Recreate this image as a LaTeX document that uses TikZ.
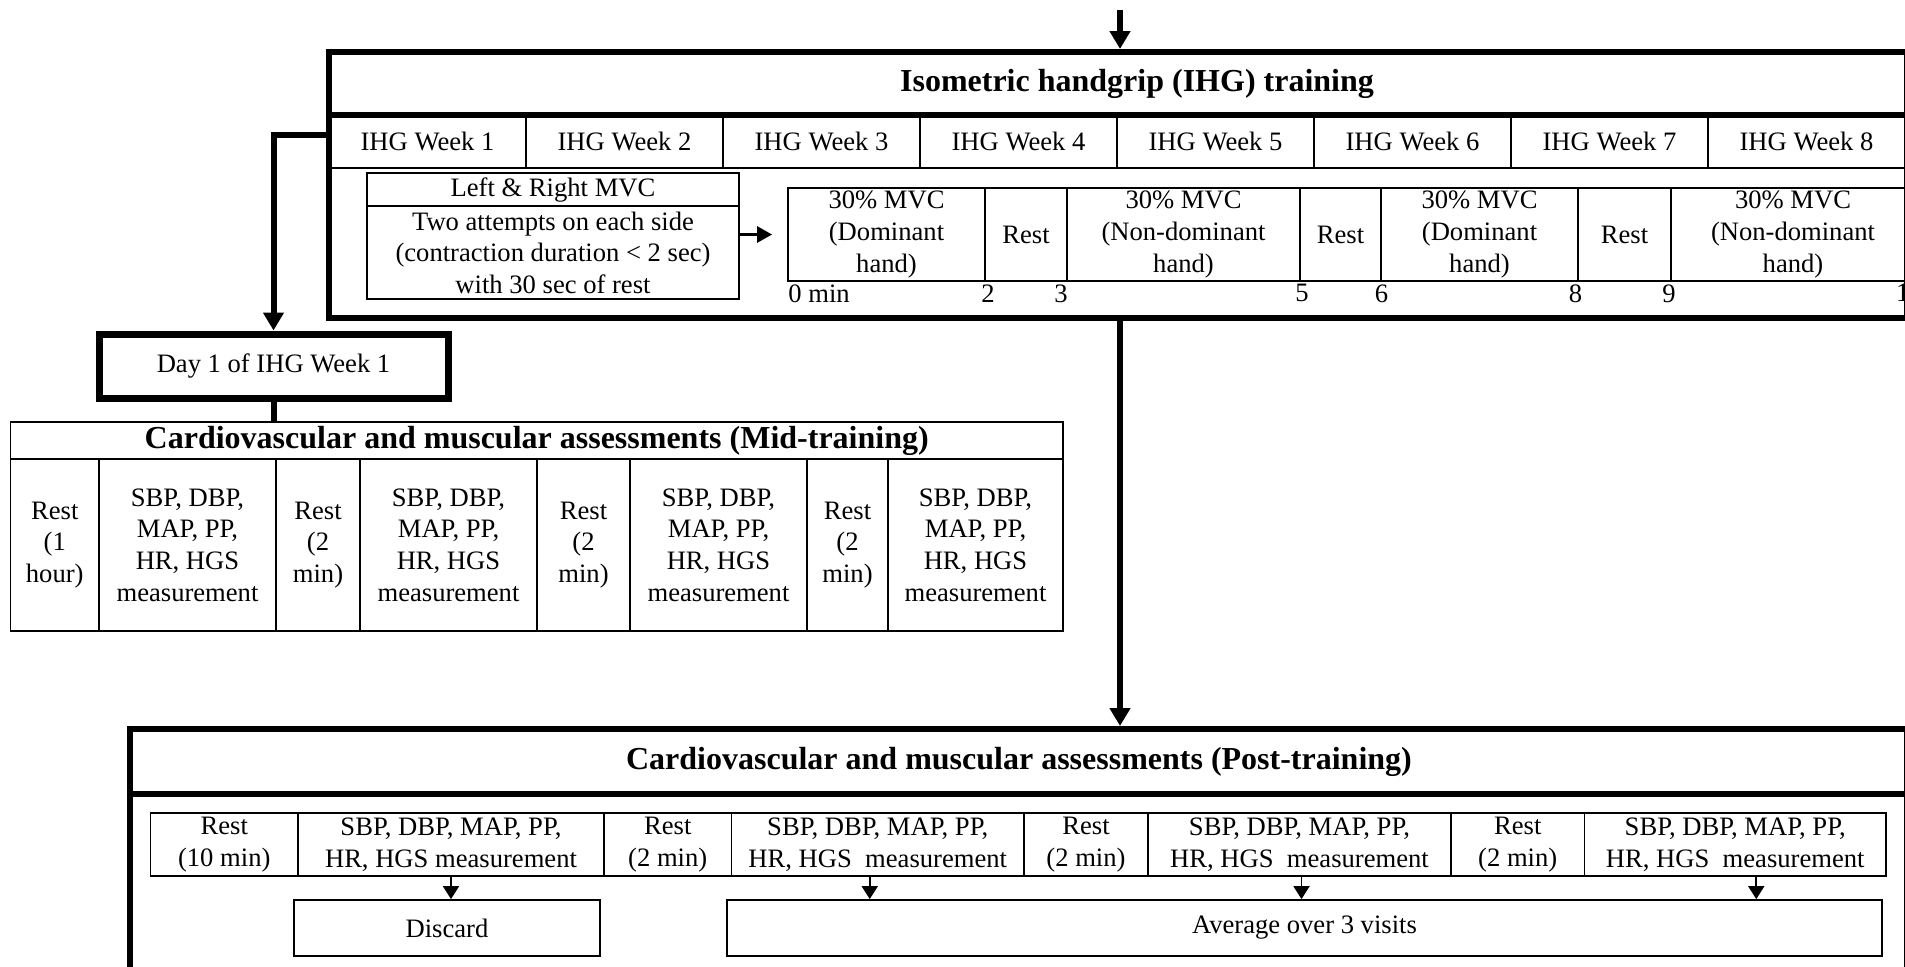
\documentclass[tikz,border=0pt]{standalone}
\usepackage{fontspec}
\setmainfont{Liberation Serif}
\usetikzlibrary{positioning,arrows.meta}
\begin{document}
\begin{tikzpicture}[x=0.5pt, y=-0.5pt,
		font=\fontsize{13.3}{15.8}\selectfont,
		cell/.style={draw, line width=0.9pt, inner sep=1pt, align=center},
		frame/.style={draw, line width=3pt, inner sep=0pt, align=center},
		heading/.style={font=\fontsize{16}{19}\selectfont\bfseries},
		tick/.style={inner sep=0pt, anchor=north},
		bigarrow/.style={line width=3pt, -{Triangle[length=9pt, width=10pt]}},
		smallarrow/.style={line width=0.9pt, -{Triangle[length=6.5pt, width=8pt]}}]
	\useasboundingbox (0,0) rectangle (1905,966);
	\clip (0,0) rectangle (1905,966);
	% cell texts
	\def\dom {30\% MVC\\(Dominant\\hand)};
	\def\nondom {30\% MVC\\(Non-dominant\\hand)};
	\def\restfirst {Rest\\(1\\hour)};
	\def\restmid {Rest\\(2\\min)};
	\def\measmid {SBP, DBP,\\MAP, PP,\\HR, HGS\\measurement};
	\def\restfirstpost {Rest\\(10 min)};
	\def\restpost {Rest\\(2 min)};
	\def\measfirstpost {SBP, DBP, MAP, PP,\\HR, HGS measurement};
	\def\measpost {SBP, DBP, MAP, PP,\\HR, HGS\ \ measurement};
	% outer frames
	\node[frame, minimum width=788.75pt, minimum height=133pt] (ihg) at (1117.75,185) {};
	\node[frame, minimum width=888.25pt, minimum height=130.5pt] (post) at (1018.25,859.5) {};
	% training block
	\node[heading] (ihg_title) at (1137,83.5) {Isometric handgrip (IHG) training};
	\foreach \index in {1,...,8}
	{
		\node[cell, minimum width=98.5pt, minimum height=26.5pt] (w_\index) at ({329+197*(\index-0.5)},141.5) {IHG Week \index};
	}
	\draw[line width=3pt] (329,115) -- (1906.5,115);
	\node[cell, minimum width=186pt, minimum height=16.5pt] (mvc_head) at (553,189.5) {Left \& Right MVC};
	\node[cell, minimum width=186pt, minimum height=46.5pt] (mvc_body) at (553,252.5)
		{Two attempts on each side\\(contraction duration < 2 sec)\\with 30 sec of rest};
	\foreach \xa/\xb/\txt [count=\index] in {788/985/\dom, 985/1067/Rest, 1067/1300/\nondom,
		1300/1381/Rest, 1381/1578/\dom, 1578/1671/Rest, 1671/1915/\nondom}
	{
		\node[cell, minimum width={(\xb-\xa)*0.5pt}, minimum height=46.5pt] (t_\index) at ({(\xa+\xb)/2},234.5) {\txt};
	}
	% minute marks
	\node[tick, anchor=north west] (tk_0) at (788,284) {0 min};
	\foreach \xt/\lbl [count=\index] in {988/2, 1061/3, 1302/5, 1381.5/6, 1575.5/8, 1669/9, 1909/11}
	{
		\node[tick] (tk_\index) at (\xt,284) {\lbl};
	}
	% mid-training block
	\node[frame, line width=3.5pt, minimum width=174.5pt, minimum height=32pt] (day) at (273.5,366) {Day 1 of IHG Week 1};
	\node[cell, heading, minimum width=526.25pt, minimum height=18.5pt] (m_title) at (536.75,440.5)
		{Cardiovascular and muscular assessments (Mid-training)};
	\foreach \xa/\xb/\txt [count=\index] in {10.5/99/\restfirst, 99/276/\measmid, 276/360/\restmid, 360/537/\measmid,
		537/630/\restmid, 630/807/\measmid, 807/888/\restmid, 888/1063/\measmid}
	{
		\node[cell, minimum width={(\xb-\xa)*0.5pt}, minimum height=86pt] (m_\index) at ({(\xa+\xb)/2},545) {\txt};
	}
	% post-training block
	\node[heading] (post_title) at (1019,762) {Cardiovascular and muscular assessments (Post-training)};
	\draw[line width=3pt] (130,794) -- (1906.5,794);
	\foreach \xa/\xb/\txt [count=\index] in {150.5/298/\restfirstpost, 298/604/\measfirstpost, 604/731.5/\restpost,
		731.5/1024/\measpost, 1024/1148/\restpost, 1148/1451/\measpost, 1451/1584.5/\restpost, 1584.5/1886/\measpost}
	{
		\node[cell, minimum width={(\xb-\xa)*0.5pt}, minimum height=31.5pt] (p_\index) at ({(\xa+\xb)/2},844.5) {\txt};
	}
	\node[cell, minimum width=153pt, minimum height=28pt] (discard) at (447,928) {Discard};
	\node[cell, minimum width=577.5pt, minimum height=28pt] (average) at (1304.5,928) {Average over 3 visits};
	% edges
	\coordinate (entry) at (1120,10);
	\draw[bigarrow] (entry) -- (entry |- ihg.north);
	\draw[bigarrow] (entry |- ihg.south) -- (entry |- post.north);
	\draw[bigarrow] ([yshift=3.5pt]w_1.west) -| (day.north);
	\draw[line width=3pt] (day.south) -- (day.south |- m_title.north);
	\draw[line width=1.4pt, -{Triangle[length=7.5pt, width=8pt]}, shorten >=7.5pt] (mvc_body.east |- t_1.west) -- (t_1.west);
	\foreach \src/\dst/\dx in {p_2/discard/0, p_4/average/-4, p_6/average/1, p_8/average/10.5}
	{
		\draw[smallarrow] ([xshift=\dx pt]\src.south) -- ([xshift=\dx pt]\src.south |- \dst.north);
	}
\end{tikzpicture}
\end{document}
